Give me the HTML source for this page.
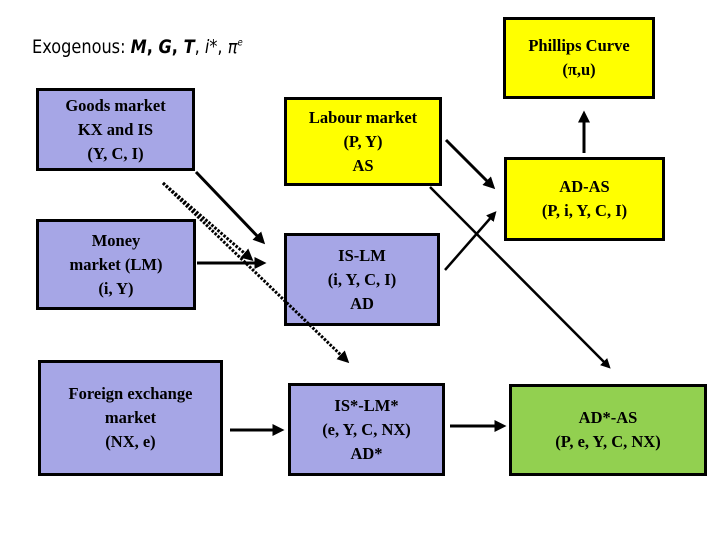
<!DOCTYPE html>
<html><head><meta charset="utf-8"><style>
body{margin:0;width:720px;height:540px;background:#fff;position:relative;overflow:hidden;font-family:"Liberation Serif",serif}
.b{position:absolute;box-sizing:border-box;border:3px solid #000;display:flex;align-items:center;justify-content:center;text-align:center;font-weight:bold;font-size:16.5px;line-height:24px}
.p{background:#a6a6e6}.y{background:#ffff00}.g{background:#92d050}
#ex{position:absolute;left:32px;top:36px;font-family:"DejaVu Sans","Liberation Sans",sans-serif;font-size:19px;transform:scaleX(0.85);transform-origin:left}
svg{position:absolute;left:0;top:0}
</style></head><body>
<div id="ex">Exogenous: <b><i>M</i>, <i>G</i>, <i>T</i></b>, <i>i</i>*, <i>π<sup style="font-size:10px">e</sup></i></div>
<div class="b p" style="left:36px;top:88px;width:159px;height:83px">Goods market<br>KX and IS<br>(Y, C, I)</div>
<div class="b p" style="left:36px;top:219px;width:160px;height:91px">Money<br>market (LM)<br>(i, Y)</div>
<div class="b p" style="left:38px;top:360px;width:185px;height:116px">Foreign exchange<br>market<br>(NX, e)</div>
<div class="b y" style="left:284px;top:97px;width:158px;height:89px">Labour market<br>(P, Y)<br>AS</div>
<div class="b p" style="left:284px;top:233px;width:156px;height:93px">IS-LM<br>(i, Y, C, I)<br>AD</div>
<div class="b p" style="left:288px;top:383px;width:157px;height:93px">IS*-LM*<br>(e, Y, C, NX)<br>AD*</div>
<div class="b y" style="left:503px;top:17px;width:152px;height:82px">Phillips Curve<br>(π,u)</div>
<div class="b y" style="left:504px;top:157px;width:161px;height:84px">AD-AS<br>(P, i, Y, C, I)</div>
<div class="b g" style="left:509px;top:384px;width:198px;height:92px">AD*-AS<br>(P, e, Y, C, NX)</div>
<svg width="720" height="540">
<defs><marker id="a" markerWidth="4" markerHeight="4" refX="2.5" refY="2" orient="auto" markerUnits="strokeWidth"><path d="M0,0L4,2L0,4z" fill="#000"/></marker></defs>
<g stroke="#000" stroke-width="3" fill="none">
<line x1="196" y1="172" x2="262" y2="241" marker-end="url(#a)"/>
<line x1="197" y1="263" x2="262" y2="263" marker-end="url(#a)"/>
<line x1="446" y1="140" x2="492" y2="186" marker-end="url(#a)"/>
<line x1="430" y1="187" x2="608" y2="366" stroke-width="2.5" marker-end="url(#a)"/>
<line x1="445" y1="270" x2="494" y2="214" stroke-width="2.5" marker-end="url(#a)"/>
<line x1="584" y1="153" x2="584" y2="115" marker-end="url(#a)"/>
<line x1="230" y1="430" x2="280" y2="430" marker-end="url(#a)"/>
<line x1="450" y1="426" x2="502" y2="426" marker-end="url(#a)"/>
<line x1="163" y1="183" x2="250" y2="258" stroke-dasharray="2.5,1.5" marker-end="url(#a)"/>
<line x1="163" y1="183" x2="346" y2="360" stroke-dasharray="2.5,1.5" marker-end="url(#a)"/>
</g></svg>
</body></html>
